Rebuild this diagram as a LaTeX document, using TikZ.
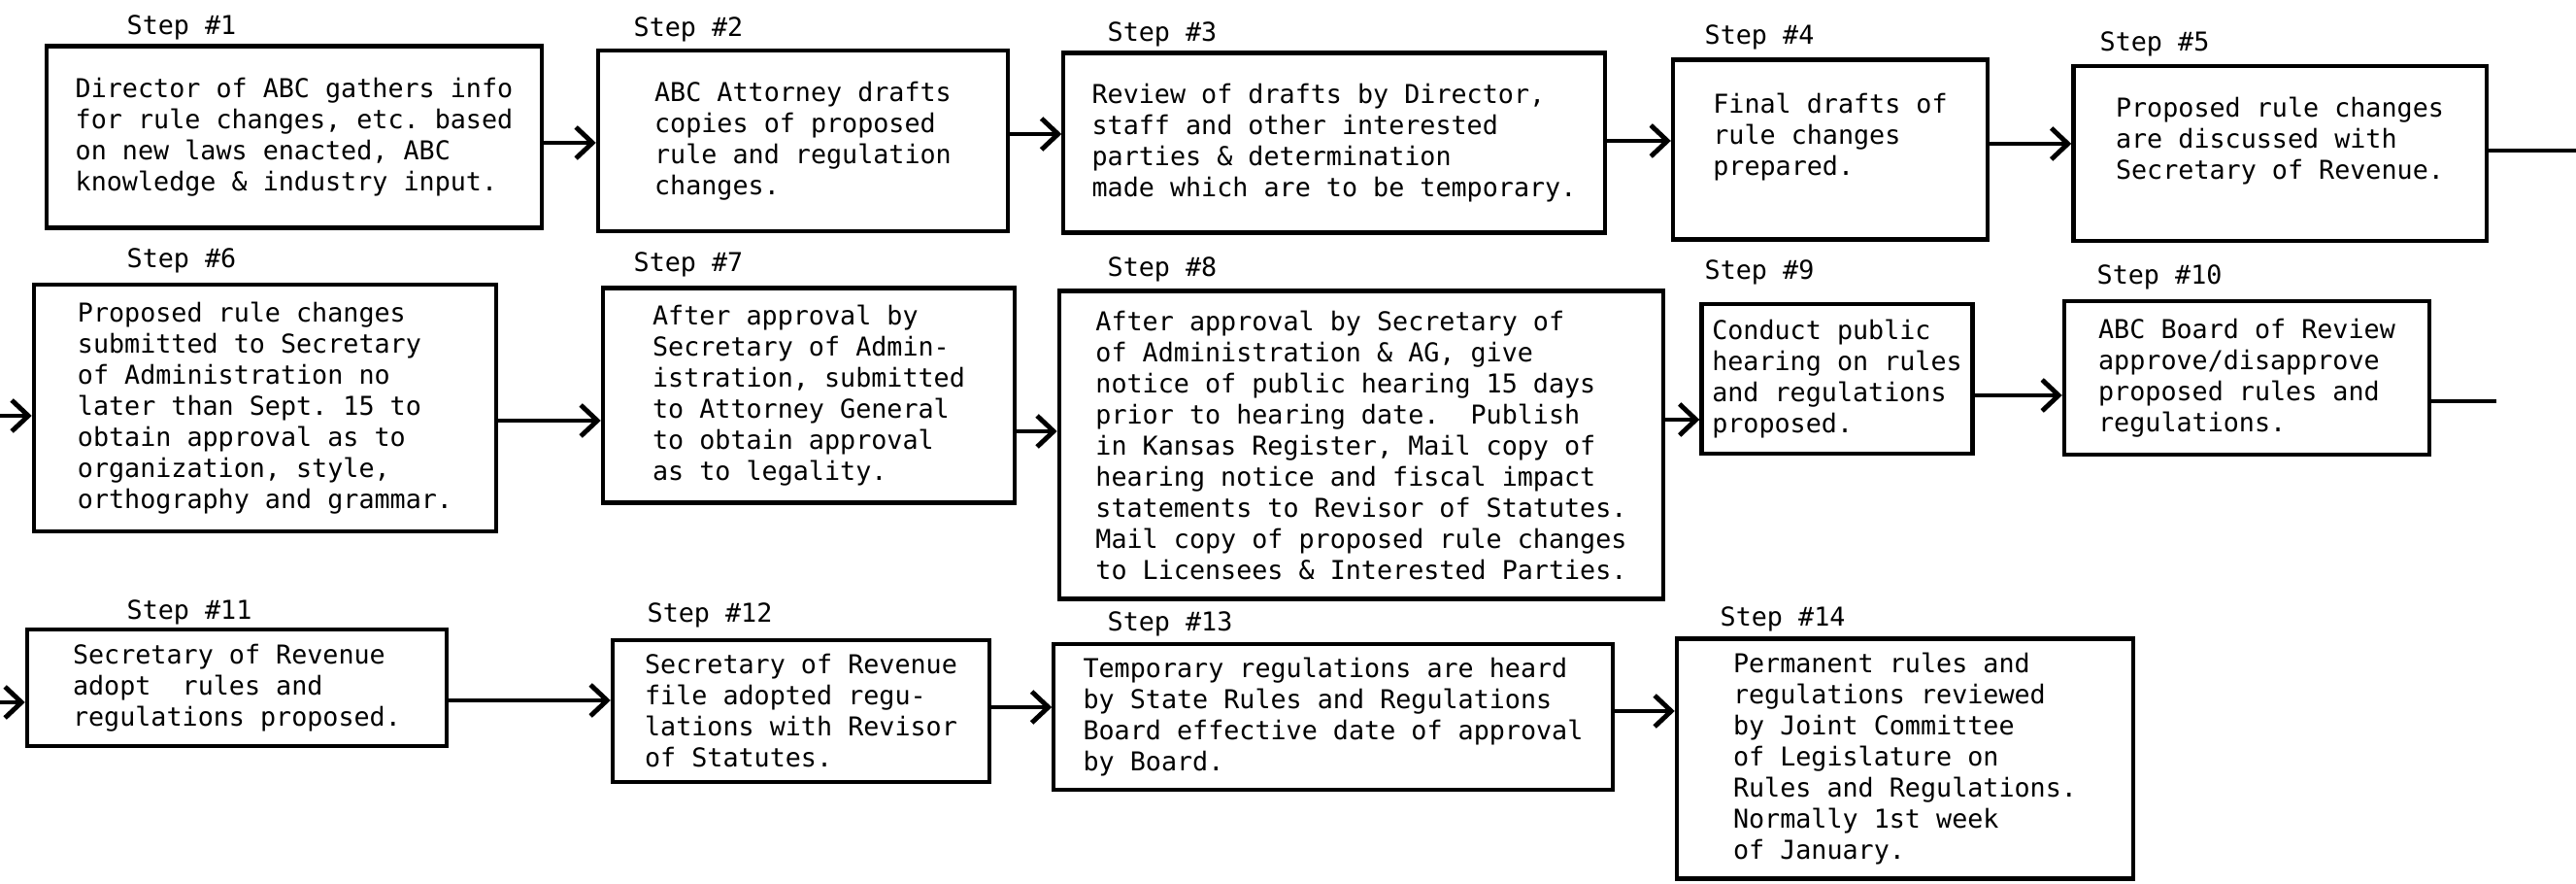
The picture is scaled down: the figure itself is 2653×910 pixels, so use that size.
\documentclass[tikz,border=0pt]{standalone}
\usepackage{fontspec}
\setmonofont{DejaVu Sans Mono}
\usetikzlibrary{arrows.meta}
\tikzstyle{block} = [rectangle, draw, line width=1.2pt, align=left, inner sep=0pt, font=\ttfamily\fontsize{7.6}{9.1}\selectfont]
\tikzstyle{steplabel} = [anchor=west, inner sep=0pt, font=\ttfamily\fontsize{7.6}{9.1}\selectfont]
\tikzstyle{line} = [draw, line width=1.4pt, -{Straight Barb[length=1.7mm,width=3.2mm]}]
\tikzstyle{wire} = [draw, line width=1.4pt]
\frenchspacing

\begin{document}
\begin{tikzpicture}[x=0.01cm, y=-0.01cm]
\useasboundingbox (0,0) rectangle (2653,910);

% first row
\node [steplabel] (l1) at (130,28) {Step \#1};
\node [block, minimum width=5.10cm, minimum height=1.87cm] (s1) at (303,141) {Director of ABC gathers info\\for rule changes, etc. based\\on new laws enacted, ABC\\knowledge \& industry input.};
\node [steplabel] (l2) at (652,30) {Step \#2};
\node [block, minimum width=4.22cm, minimum height=1.86cm] (s2) at (827,145) {ABC Attorney drafts\\copies of proposed\\rule and regulation\\changes.};
\path [line] (s1.east |- 0,147) -- (s2.west |- 0,147);
\node [steplabel] (l3) at (1140,35) {Step \#3};
\node [block, minimum width=5.57cm, minimum height=1.85cm] (s3) at (1374,147) {Review of drafts by Director,\\staff and other interested\\parties \& determination\\made which are to be temporary.};
\path [line] (s2.east |- 0,138) -- (s3.west |- 0,138);
\node [steplabel] (l4) at (1755,38) {Step \#4};
\node [block, minimum width=3.24cm, minimum height=1.85cm] (s4) at (1885,154) {Final drafts of\\rule changes\\prepared.\\~};
\path [line] (s3.east |- 0,145) -- (s4.west |- 0,145);
\node [steplabel] (l5) at (2162,45) {Step \#5};
\node [block, minimum width=4.25cm, minimum height=1.80cm] (s5) at (2348,158) {Proposed rule changes\\are discussed with\\Secretary of Revenue.\\~};
\path [line] (s4.east |- 0,148) -- (s5.west |- 0,148);
\coordinate (c5) at (2653,155);
\path [wire] (s5.east |- c5) -- (c5);

% second row
\coordinate (c6) at (0,428);
\node [steplabel] (l6) at (130,268) {Step \#6};
\node [block, minimum width=4.76cm, minimum height=2.54cm] (s6) at (273,420) {Proposed rule changes\\submitted to Secretary\\of Administration no\\later than Sept. 15 to\\obtain approval as to\\organization, style,\\orthography and grammar.};
\path [line] (c6) -- (s6.west |- c6);
\node [steplabel] (l7) at (652,272) {Step \#7};
\node [block, minimum width=4.24cm, minimum height=2.21cm] (s7) at (833,407) {After approval by\\Secretary of Admin-\\istration, submitted\\to Attorney General\\to obtain approval\\as to legality.};
\path [line] (s6.east |- 0,433) -- (s7.west |- 0,433);
\node [steplabel] (l8) at (1140,277) {Step \#8};
\node [block, minimum width=6.22cm, minimum height=3.17cm] (s8) at (1402,458) {After approval by Secretary of\\of Administration \& AG, give\\notice of public hearing 15 days\\prior to hearing date.~~Publish\\in Kansas Register, Mail copy of\\hearing notice and fiscal impact\\statements to Revisor of Statutes.\\Mail copy of proposed rule changes\\to Licensees \& Interested Parties.};
\path [line] (s7.east |- 0,444) -- (s8.west |- 0,444);
\node [steplabel] (l9) at (1755,280) {Step \#9};
\node [block, minimum width=2.79cm, minimum height=1.54cm] (s9) at (1892,390) {Conduct public\\hearing on rules\\and regulations\\proposed.};
\path [line] (s8.east |- 0,432) -- (s9.west |- 0,432);
\node [steplabel] (l10) at (2159,285) {Step \#10};
\node [block, minimum width=3.76cm, minimum height=1.58cm] (s10) at (2314,389) {ABC Board of Review\\approve/disapprove\\proposed rules and\\regulations.};
\path [line] (s9.east |- 0,407) -- (s10.west |- 0,407);
\coordinate (c10) at (2571,413);
\path [wire] (s10.east |- c10) -- (c10);

% third row
\coordinate (c11) at (0,723);
\node [steplabel] (l11) at (130,630) {Step \#11};
\node [block, minimum width=4.32cm, minimum height=1.20cm] (s11) at (244,708) {Secretary of Revenue\\adopt~~rules and\\regulations proposed.};
\path [line] (c11) -- (s11.west |- c11);
\node [steplabel] (l12) at (666,633) {Step \#12};
\node [block, minimum width=3.88cm, minimum height=1.46cm] (s12) at (825,732) {Secretary of Revenue\\file adopted regu-\\lations with Revisor\\of Statutes.};
\path [line] (s11.east |- 0,721) -- (s12.west |- 0,721);
\node [steplabel] (l13) at (1140,642) {Step \#13};
\node [block, minimum width=5.75cm, minimum height=1.50cm] (s13) at (1373,738) {Temporary regulations are heard\\by State Rules and Regulations\\Board effective date of approval\\by Board.};
\path [line] (s12.east |- 0,728) -- (s13.west |- 0,728);
\node [steplabel] (l14) at (1771,637) {Step \#14};
\node [block, minimum width=4.70cm, minimum height=2.47cm] (s14) at (1962,781) {Permanent rules and\\regulations reviewed\\by Joint Committee\\of Legislature on\\Rules and Regulations.\\Normally 1st week\\of January.};
\path [line] (s13.east |- 0,732) -- (s14.west |- 0,732);
\end{tikzpicture}
\end{document}
